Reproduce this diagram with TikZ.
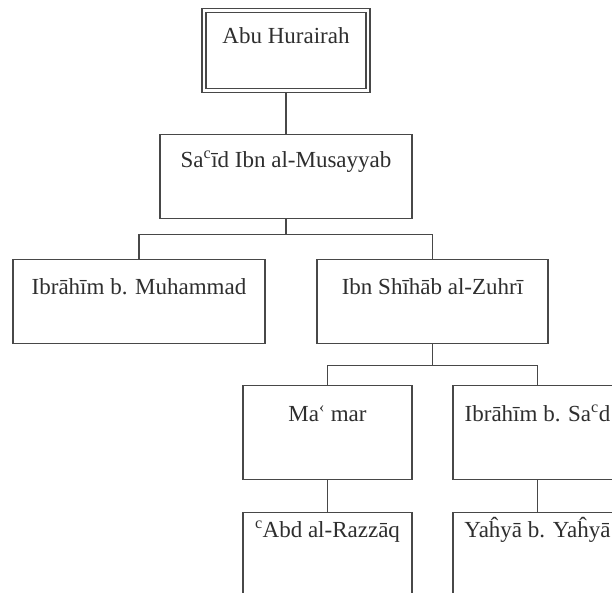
\documentclass[tikz,border=0pt]{standalone}
\usepackage{fontspec}
\setmainfont{Liberation Serif}
\usetikzlibrary{backgrounds}
\definecolor{ln}{HTML}{484848}
\definecolor{tx}{HTML}{2E2E2E}
\begin{document}
\begin{tikzpicture}[x=1pt,y=-1pt,
  box/.style={draw=ln, line width=1.4pt, fill=white, anchor=north,
    inner xsep=0pt, inner ysep=0pt, text=tx,
    font=\fontsize{23}{27}\selectfont},
  conn/.style={draw=ln, line width=1.4pt}]
\useasboundingbox (0,0) rectangle (612,592);
\clip (0,0) rectangle (612,592);
\node[box, double=white, double distance=2.8pt, minimum width=164pt,
  text height=33pt, text depth=47pt] (top) at (286,9.75) {Abu Hurairah};
\node[box, minimum width=252pt, text height=33pt, text depth=51pt] (said) at (286,134) {Sa\textsuperscript{c}īd Ibn al-Musayyab};
\node[box, minimum width=252pt, text height=35pt, text depth=49pt] (ibm) at (139,259) {Ibrāhīm b. Muhammad};
\node[box, minimum width=231pt, text height=35pt, text depth=49pt] (ibs) at (432.5,259) {Ibn Shīhāb al-Zuhrī};
\node[box, minimum width=169pt, text height=36pt, text depth=58pt] (mamar) at (327.5,385) {Ma\textsuperscript{‹} mar};
\node[box, minimum width=169pt, text height=36pt, text depth=58pt] (ibsa) at (537.5,385) {Ibrāhīm b. Sa\textsuperscript{c}d};
\node[box, minimum width=169pt, text height=25pt, text depth=69pt] (abd) at (327.5,512) {\textsuperscript{c}Abd al-Razzāq};
\node[box, minimum width=169pt, text height=25pt, text depth=69pt] (yah) at (537.5,512) {Yaĥyā b. Yaĥyā};
\begin{scope}[on background layer]
\draw[conn] (top.south) -- (said.north);
\draw[conn] (said.south) -- ++(0,15) -| (ibm.north);
\draw[conn] (said.south) -- ++(0,15) -| (ibs.north);
\draw[conn] (ibs.south) -- ++(0,21) -| (mamar.north);
\draw[conn] (ibs.south) -- ++(0,21) -| (ibsa.north);
\draw[conn] (mamar.south) -- (abd.north);
\draw[conn] (ibsa.south) -- (yah.north);
\end{scope}
\end{tikzpicture}
\end{document}
